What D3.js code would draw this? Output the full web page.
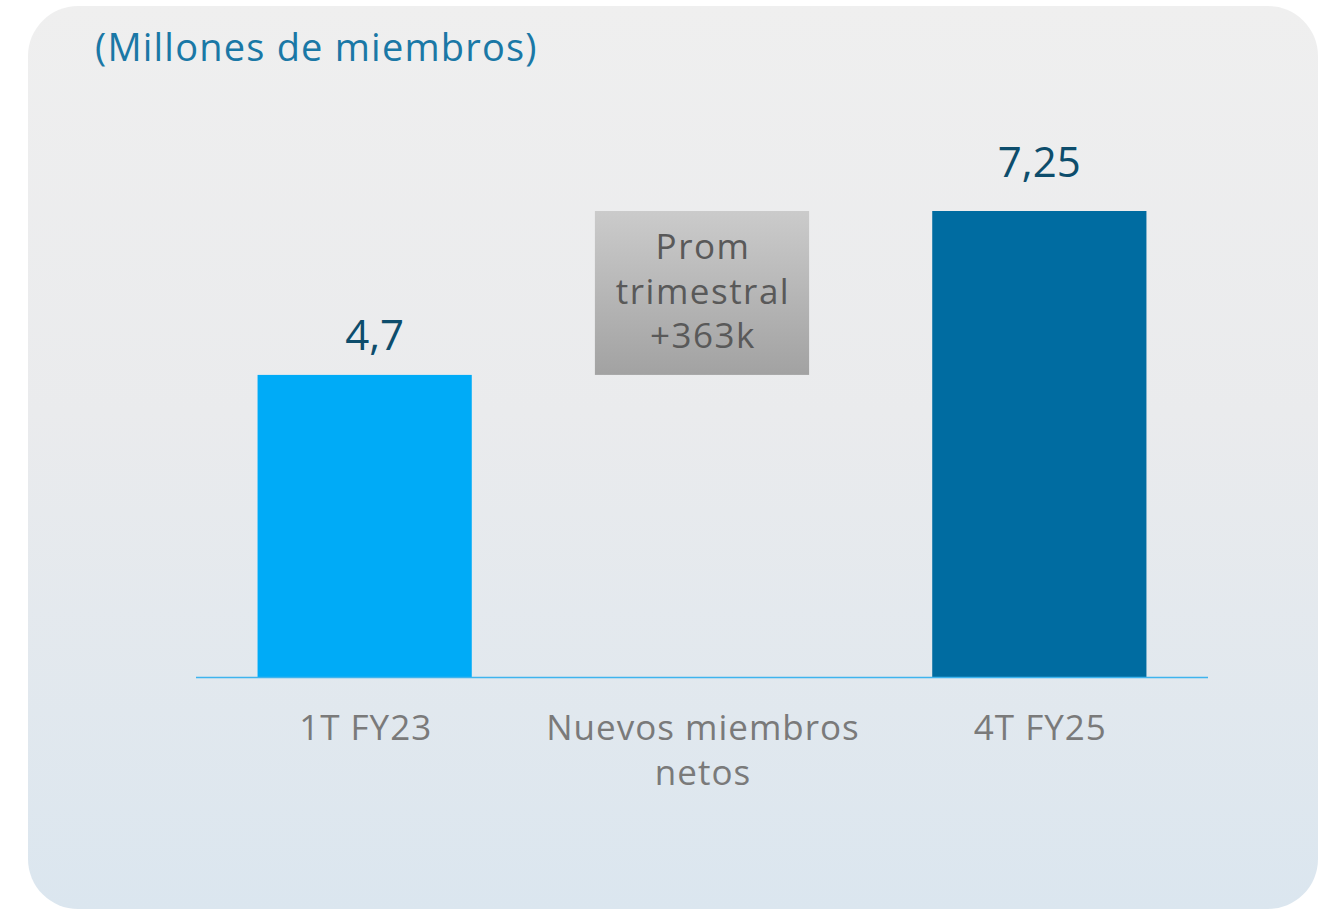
<!DOCTYPE html>
<html>
<head>
<meta charset="utf-8">
<script src="https://cdn.jsdelivr.net/npm/d3@7"></script>
<style>
	html, body { margin: 0; padding: 0; background: #ffffff; }
	svg { display: block; }
	text { font-family: 'Open Sans', sans-serif; }
</style>
</head>
<body>
<div id="chart"></div>
<script>
'use strict';

// Data
var categories = ['1T FY23', 'Nuevos miembros netos', '4T FY25'];
var startValue = 4.7;
var endValue = 7.25;
var valueLabels = ['4,7', '7,25'];
var boxLabel = ['Prom', 'trimestral', '+363k'];
var axisLabels = [['1T FY23'], ['Nuevos miembros', 'netos'], ['4T FY25']];
var titleText = '(Millones de miembros)';

var svg = d3.select('#chart').append('svg')
	.attr('width', 1319)
	.attr('height', 910);

var defs = svg.append('defs');

var bgGrad = defs.append('linearGradient')
	.attr('id', 'bg-grad')
	.attr('x1', 0).attr('y1', 0).attr('x2', 0).attr('y2', 1);
bgGrad.append('stop').attr('offset', '0%').attr('stop-color', '#efefef');
bgGrad.append('stop').attr('offset', '45%').attr('stop-color', '#eaebed');
bgGrad.append('stop').attr('offset', '100%').attr('stop-color', '#dbe6ef');

var boxGrad = defs.append('linearGradient')
	.attr('id', 'box-grad')
	.attr('x1', 0).attr('y1', 0).attr('x2', 0).attr('y2', 1);
boxGrad.append('stop').attr('offset', '0%').attr('stop-color', '#cbcbcb');
boxGrad.append('stop').attr('offset', '100%').attr('stop-color', '#a2a2a2');

// Card background
svg.append('rect')
	.attr('x', 28)
	.attr('y', 6)
	.attr('width', 1290)
	.attr('height', 903)
	.attr('rx', 50)
	.attr('fill', 'url(#bg-grad)');

// Title
svg.append('text')
	.attr('x', 95)
	.attr('y', 61)
	.attr('fill', '#1a78a6')
	.style('font-size', '38px')
	.style('letter-spacing', '1.2px')
	.text(titleText);

// Scales
var baseline = 677;
var x = d3.scaleBand()
	.domain(categories)
	.range([196, 1208])
	.paddingInner(0.365)
	.paddingOuter(0.1825);

var y = d3.scaleLinear()
	.domain([0, endValue])
	.range([baseline, baseline - 466]);

var g = svg.append('g');

// Bars
var bars = [
	{cat: categories[0], v0: 0, v1: startValue, color: '#00abf7', label: valueLabels[0], dx: 10, dy: -25},
	{cat: categories[2], v0: 0, v1: endValue, color: '#006ca1', label: valueLabels[1], dx: 0, dy: -34}
];

g.selectAll('.bar')
	.data(bars)
	.enter().append('rect')
		.attr('class', 'bar')
		.attr('x', function(d) { return x(d.cat); })
		.attr('y', function(d) { return y(d.v1); })
		.attr('width', x.bandwidth())
		.attr('height', function(d) { return y(d.v0) - y(d.v1); })
		.attr('fill', function(d) { return d.color; });

g.selectAll('.bar-label')
	.data(bars)
	.enter().append('text')
		.attr('class', 'bar-label')
		.attr('x', function(d) { return x(d.cat) + x.bandwidth() / 2 + d.dx; })
		.attr('y', function(d) { return y(d.v1) + d.dy; })
		.attr('text-anchor', 'middle')
		.attr('fill', '#0d4d6c')
		.style('font-size', '42px')
		.text(function(d) { return d.label; });

// Floating box (net new members)
var boxX = x(categories[1]);
var boxCx = boxX + x.bandwidth() / 2;
g.append('rect')
	.attr('x', boxX)
	.attr('y', y(endValue))
	.attr('width', x.bandwidth())
	.attr('height', y(startValue) - y(endValue))
	.attr('fill', 'url(#box-grad)');

g.append('text')
	.attr('y', y(endValue) + 48)
	.attr('text-anchor', 'middle')
	.attr('fill', '#595959')
	.style('font-size', '35px')
	.style('letter-spacing', '1.5px')
	.selectAll('tspan')
	.data(boxLabel)
	.enter().append('tspan')
		.attr('x', boxCx + 1)
		.attr('dy', function(d, i) { return i === 0 ? 0 : 44.5; })
		.text(function(d) { return d; });

// Baseline
g.append('line')
	.attr('x1', 196)
	.attr('x2', 1208)
	.attr('y1', baseline + 0.5)
	.attr('y2', baseline + 0.5)
	.attr('stroke', '#3fb4ee')
	.attr('stroke-width', 1.5);

// X axis labels
g.selectAll('.x-label')
	.data(categories)
	.enter().append('text')
		.attr('class', 'x-label')
		.attr('text-anchor', 'middle')
		.attr('y', 740)
		.attr('fill', '#7a7a7a')
		.style('font-size', '35px')
		.style('letter-spacing', '1px')
		.each(function(d, i) {
			var cx = x(d) + x.bandwidth() / 2 + 1;
			d3.select(this).selectAll('tspan')
				.data(axisLabels[i])
				.enter().append('tspan')
					.attr('x', cx)
					.attr('dy', function(t, j) { return j === 0 ? 0 : 45; })
					.text(function(t) { return t; });
		});
</script>
</body>
</html>
